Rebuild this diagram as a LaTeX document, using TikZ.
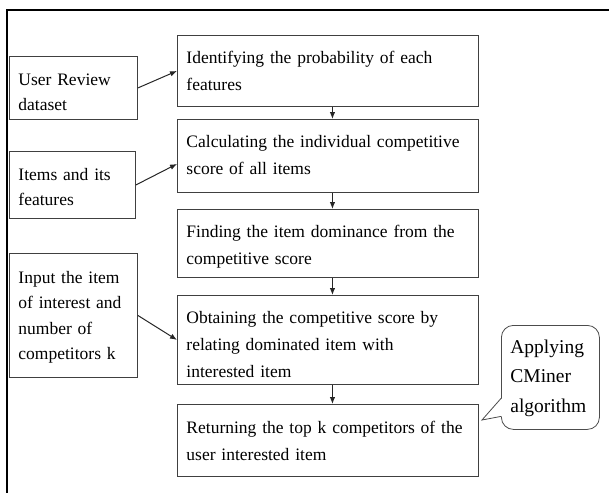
\documentclass[tikz,border=0pt]{standalone}
\usepackage{fontspec}
\setmainfont{Liberation Serif}
\usetikzlibrary{arrows.meta}

\begin{document}
\begin{tikzpicture}[x=1pt,y=-1pt,
    stepbox/.style={draw=black!75,line width=0.9pt,anchor=north west,align=left,
      inner xsep=9pt,inner ysep=0pt,text width=283pt,
      font=\fontsize{17.5pt}{27pt}\selectfont},
    sidebox/.style={stepbox,text width=110pt,font=\fontsize{17.5pt}{25.5pt}\selectfont},
    notebox/.style={draw=black!70,line width=0.8pt,rounded corners=12pt,anchor=north west,
      align=left,inner xsep=9pt,inner ysep=0pt,text width=80pt,
      font=\fontsize{19.5pt}{29.5pt}\selectfont},
    flow/.style={-{Latex[length=7pt,width=5.5pt]},line width=1pt,black!85}]
  \useasboundingbox (0,0) rectangle (609,492);
  % frame
  \draw[line width=2pt] (7,500) -- (7,10) -- (620,10);
  % steps
  \node[stepbox,text height=28pt,text depth=43pt] (prob) at (177,35) {Identifying the probability of each\\features};
  \node[stepbox,text height=28pt,text depth=45pt] (score) at (177,119) {Calculating the individual competitive\\score of all items};
  \node[stepbox,text height=28pt,text depth=40pt] (dom) at (177,209) {Finding the item dominance from the\\competitive score};
  \node[stepbox,text height=28pt,text depth=61pt] (rel) at (177,295) {Obtaining the competitive score by\\relating dominated item with\\interested item};
  \node[stepbox,text height=29pt,text depth=43pt] (top) at (177,404) {Returning the top k competitors of the\\user interested item};
  % inputs
  \node[sidebox,text height=29pt,text depth=34pt] (rev) at (9,56) {User Review\\dataset};
  \node[sidebox,text height=29pt,text depth=38pt,text width=108pt] (feat) at (9,151) {Items and its\\features};
  \node[sidebox,text height=30pt,text depth=94pt] (inp) at (9,253) {Input the item\\of interest and\\number of\\competitors k};
  % note
  \node[notebox,text height=28pt,text depth=76pt] (cm) at (501,325) {Applying\\CMiner\\algorithm};
  \coordinate (tip) at (482,420);
  \coordinate (p1) at ([yshift=-21pt]cm.west);
  \coordinate (p2) at ([yshift=-39pt]cm.west);
  \fill[white] ([xshift=1pt]p1) -- (tip) -- ([xshift=1pt]p2) -- cycle;
  \draw[black!70,line width=0.8pt] (p1) -- (tip) -- (p2);
  % edges
  \draw[flow] (rev.east) -- (prob.west);
  \draw[flow] (feat.east) -- ([yshift=-8pt]score.west);
  \draw[flow] (inp.east) -- (rel.west);
  \foreach \a/\b in {prob/score,score/dom,dom/rel,rel/top}
    \draw[flow] ([xshift=4.5pt]\a.south) -- ([xshift=4.5pt]\b.north);
\end{tikzpicture}
\end{document}
